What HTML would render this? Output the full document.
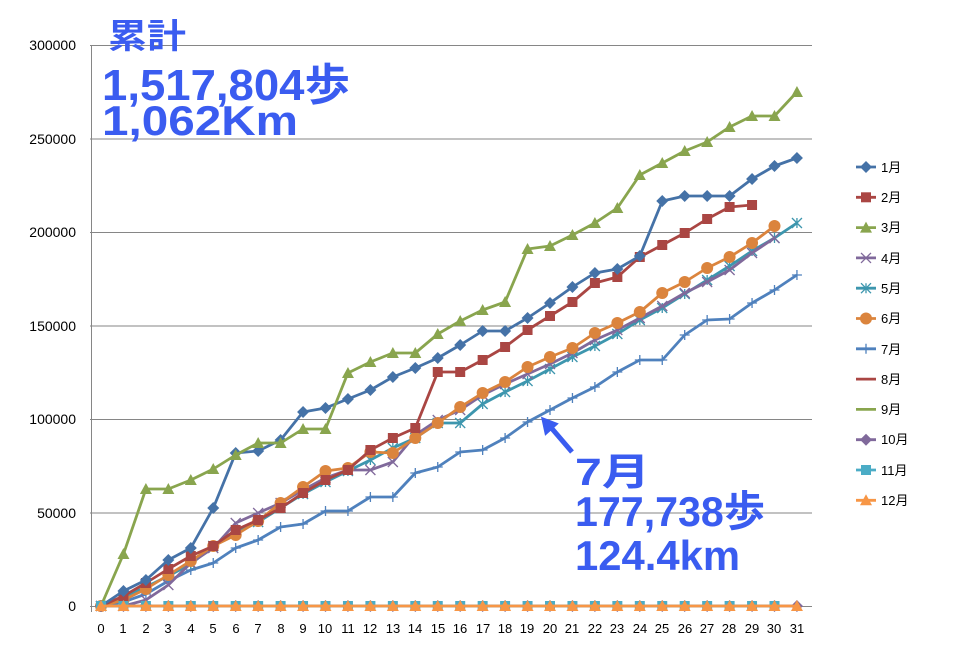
<!DOCTYPE html>
<html><head><meta charset="utf-8"><style>
body{margin:0;background:#fff;width:980px;height:647px;overflow:hidden}
svg text{font-family:"Liberation Sans","Noto Sans CJK JP",sans-serif}
.big{font-family:"Liberation Sans","Noto Sans CJK JP",sans-serif;font-weight:bold;fill:#3a5cf0}
</style></head><body>
<svg id="s" width="980" height="647" xmlns="http://www.w3.org/2000/svg">
<g stroke="#868686" stroke-width="1">
<line x1="90" y1="45.5" x2="812" y2="45.5"/><line x1="90" y1="139" x2="812" y2="139"/>
<line x1="90" y1="232.5" x2="812" y2="232.5"/><line x1="90" y1="326" x2="812" y2="326"/>
<line x1="90" y1="419.5" x2="812" y2="419.5"/><line x1="90" y1="513" x2="812" y2="513"/>
<line x1="90" y1="606.5" x2="812" y2="606.5"/><line x1="91.5" y1="45" x2="91.5" y2="612"/>
</g>
<g font-size="14" text-anchor="end" fill="#000">
<text x="76" y="50">300000</text><text x="76" y="144">250000</text><text x="76" y="237">200000</text>
<text x="76" y="331">150000</text><text x="76" y="424">100000</text><text x="76" y="518">50000</text><text x="76" y="611">0</text>
</g>
<g font-size="13" text-anchor="middle" fill="#000">
<text x="101" y="633">0</text><text x="123" y="633">1</text><text x="146" y="633">2</text><text x="168" y="633">3</text><text x="191" y="633">4</text><text x="213" y="633">5</text><text x="236" y="633">6</text><text x="258" y="633">7</text><text x="281" y="633">8</text><text x="303" y="633">9</text><text x="325" y="633">10</text><text x="348" y="633">11</text><text x="370" y="633">12</text><text x="393" y="633">13</text><text x="415" y="633">14</text><text x="438" y="633">15</text><text x="460" y="633">16</text><text x="483" y="633">17</text><text x="505" y="633">18</text><text x="527" y="633">19</text><text x="550" y="633">20</text><text x="572" y="633">21</text><text x="595" y="633">22</text><text x="617" y="633">23</text><text x="640" y="633">24</text><text x="662" y="633">25</text><text x="685" y="633">26</text><text x="707" y="633">27</text><text x="729" y="633">28</text><text x="752" y="633">29</text><text x="774" y="633">30</text><text x="797" y="633">31</text>
</g>
<g id="series"></g>
<g font-size="13" fill="#000">
<text x="881" y="172">1月</text><text x="881" y="202">2月</text><text x="881" y="232">3月</text><text x="881" y="263">4月</text>
<text x="881" y="293">5月</text><text x="881" y="323">6月</text><text x="881" y="354">7月</text><text x="881" y="384">8月</text>
<text x="881" y="414">9月</text><text x="881" y="444">10月</text><text x="881" y="475">11月</text><text x="881" y="505">12月</text>
</g>
<text class="big" x="108" y="48" font-size="34" textLength="78" lengthAdjust="spacingAndGlyphs">累計</text>
<text class="big" x="102" y="100" font-size="44" textLength="248" lengthAdjust="spacingAndGlyphs">1,517,804歩</text>
<text class="big" x="102" y="135" font-size="42" textLength="196" lengthAdjust="spacingAndGlyphs">1,062Km</text>
<text class="big" x="575" y="485" font-size="38" textLength="75" lengthAdjust="spacingAndGlyphs">7月</text>
<text class="big" x="575" y="526" font-size="42" textLength="190" lengthAdjust="spacingAndGlyphs">177,738歩</text>
<text class="big" x="575" y="570" font-size="42" textLength="165" lengthAdjust="spacingAndGlyphs">124.4km</text>
<path d="M548 424 L572 452" stroke="#3a5cf0" stroke-width="5" fill="none"/>
<path d="M543 419 L556 424 L546 433 Z" fill="#3a5cf0" stroke="#3a5cf0" stroke-width="3"/>
</svg>
<script>
var X=i=>101+22.45*i;
var S=[
["#4572A7","d",[606,591,580,560,548,508,453,451,440,412,408,399,390,377,368,358,345,331,331,318,303,287,273,269,256,201,196,196,196,179,166,158]],
["#AA4643","s",[606,596,583,569,556,546,530,520,508,493,480,470,450,438,428,372,372,360,347,330,316,302,283,277,257,245,233,219,207,205]],
["#89A54E","t",[606,554,489,489,480,469,455,443,443,429,429,373,362,353,353,334,321,310,302,249,246,235,223,208,175,163,151,142,127,116,116,92]],
["#80699B","x",[606,606,600,585,563,548,523,513,503,490,478,470,470,462,435,420,410,395,384,374,364,353,340,330,318,306,293,282,270,253,238]],
["#3D96AE","a",[606,597,587,576,564,546,533,522,508,494,482,471,460,448,438,423,423,404,392,381,369,357,346,334,320,308,294,280,266,251,238,223]],
["#DB843D","c",[606,600,589,575,561,546,535,521,503,487,471,468,452,453,438,423,407,393,382,367,357,348,333,323,312,293,282,268,257,243,226]],
["#4F81BD","p",[606,602,594,581,570,563,548,540,527,524,511,511,497,497,473,467,452,450,438,422,410,398,387,372,360,360,335,320,319,303,290,275]],
["#AA4643","n",[]],["#89A54E","n",[]],
["#80699B","d",Array(32).fill(606)],
["#4BACC6","s",Array(31).fill(606)],
["#F79646","t",Array(32).fill(606)]];
var g=document.getElementById("series"),h="";
function mk(t,c,x,y,r){
 if(t=="d")return `<path d="M${x} ${y-r-1}L${x+r+1} ${y}L${x} ${y+r+1}L${x-r-1} ${y}Z" fill="${c}"/>`;
 if(t=="s")return `<rect x="${x-r}" y="${y-r}" width="${2*r}" height="${2*r}" fill="${c}"/>`;
 if(t=="t")return `<path d="M${x} ${y-r-1}L${x+r+1} ${y+r}L${x-r-1} ${y+r}Z" fill="${c}"/>`;
 if(t=="c")return `<circle cx="${x}" cy="${y}" r="${r+1}" fill="${c}"/>`;
 if(t=="x")return `<path d="M${x-r} ${y-r}L${x+r} ${y+r}M${x-r} ${y+r}L${x+r} ${y-r}" stroke="${c}" stroke-width="1.3"/>`;
 if(t=="a")return `<path d="M${x-r} ${y-r}L${x+r} ${y+r}M${x-r} ${y+r}L${x+r} ${y-r}M${x} ${y-r}L${x} ${y+r}" stroke="${c}" stroke-width="1.3"/>`;
 if(t=="p")return `<path d="M${x-r} ${y}L${x+r} ${y}M${x} ${y-r}L${x} ${y+r}" stroke="${c}" stroke-width="1.3"/>`;
 return "";
}
var order=[6,4,3,5,1,0,2,9,10,11];
order.forEach(k=>{var s=S[k];if(!s[2].length)return;
 h+=`<polyline fill="none" stroke="${s[0]}" stroke-width="2.8" stroke-linejoin="round" points="${s[2].map((y,i)=>X(i).toFixed(1)+","+y).join(" ")}"/>`;
 s[2].forEach((y,i)=>h+=mk(s[1],s[0],X(i),y,5));
});
S.forEach((s,k)=>{var y=167+30.3*k;
 h+=`<line x1="856" y1="${y}" x2="876" y2="${y}" stroke="${s[0]}" stroke-width="2.8"/>`+mk(s[1],s[0],866,y,5);
});
g.innerHTML=h;
</script>
</body></html>
